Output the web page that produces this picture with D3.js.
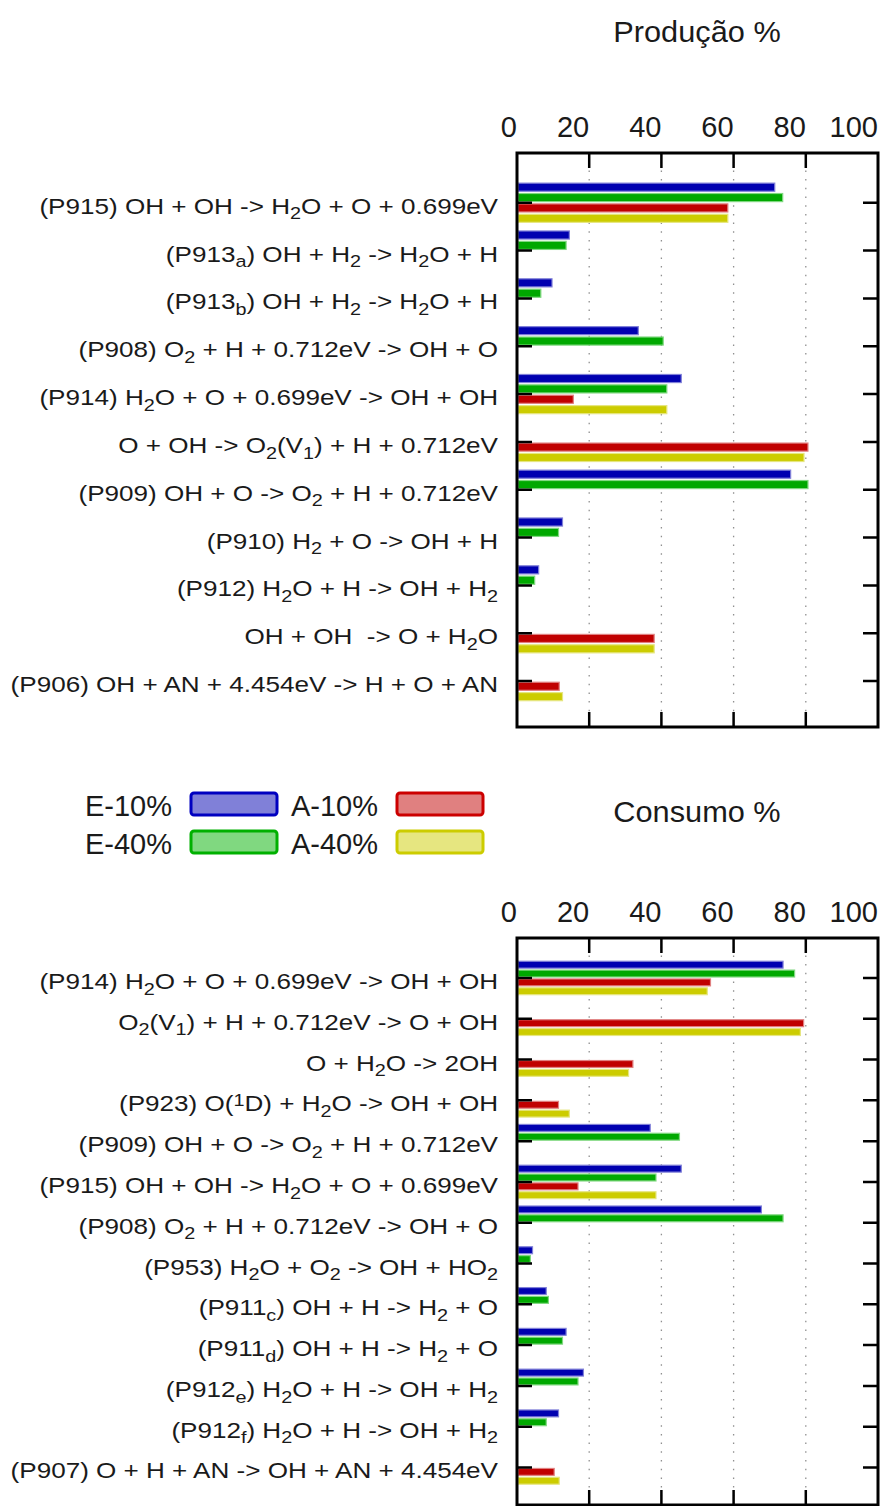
<!DOCTYPE html>
<html lang="pt">
<head>
<meta charset="UTF-8">
<title>Produção / Consumo %</title>
<script src="https://d3js.org/d3.v7.min.js"></script>
<style>
    body, html { margin: 0; padding: 0; background: #fff; }
    svg text { font-family: "Liberation Sans", Arial, sans-serif; fill: #1a1a1a; white-space: pre; }
</style>
</head>
<body>
<div id="chart"></div>
<script>
// series order: E-10%, E-40%, A-10%, A-40%
var seriesNames = ["E-10%", "E-40%", "A-10%", "A-40%"];
var barColors = ["#0000b0", "#00a800", "#c00000", "#cccc00"];
var keyFill = ["#8080d8", "#80d880", "#e08080", "#e6e680"];
var keyStroke = ["#0000c0", "#00b000", "#cc0000", "#cccc00"];
var xTicks = [0, 20, 40, 60, 80, 100];

// Produção %
var prodLabels = [
    "(P915) OH + OH -> H_2O + O + 0.699eV",
    "(P913_a) OH + H_2 -> H_2O + H",
    "(P913_b) OH + H_2 -> H_2O + H",
    "(P908) O_2 + H + 0.712eV -> OH + O",
    "(P914) H_2O + O + 0.699eV -> OH + OH",
    "O + OH -> O_2(V_1) + H + 0.712eV",
    "(P909) OH + O -> O_2 + H + 0.712eV",
    "(P910) H_2 + O -> OH + H",
    "(P912) H_2O + H -> OH + H_2",
    "OH + OH  -> O + H_2O",
    "(P906) OH + AN + 4.454eV -> H + O + AN"
];
var prodE10 = [71.4, 14.5, 9.7, 33.6, 45.5, null, 75.8, 12.6, 6.0, null, null];
var prodE40 = [73.6, 13.6, 6.6, 40.5, 41.5, null, 80.6, 11.5, 4.9, null, null];
var prodA10 = [58.4, null, null, null, 15.6, 80.6, null, null, null, 38.0, 11.7];
var prodA40 = [58.4, null, null, null, 41.5, 79.5, null, null, null, 38.0, 12.6];

// Consumo %
var consLabels = [
    "(P914) H_2O + O + 0.699eV -> OH + OH",
    "O_2(V_1) + H + 0.712eV -> O + OH",
    "O + H_2O -> 2OH",
    "(P923) O(^1D) + H_2O -> OH + OH",
    "(P909) OH + O -> O_2 + H + 0.712eV",
    "(P915) OH + OH -> H_2O + O + 0.699eV",
    "(P908) O_2 + H + 0.712eV -> OH + O",
    "(P953) H_2O + O_2 -> OH + HO_2",
    "(P911_c) OH + H -> H_2 + O",
    "(P911_d) OH + H -> H_2 + O",
    "(P912_e) H_2O + H -> OH + H_2",
    "(P912_f) H_2O + H -> OH + H_2",
    "(P907) O + H + AN -> OH + AN + 4.454eV"
];
var consE10 = [73.7, null, null, null, 36.9, 45.5, 67.7, 4.3, 8.1, 13.6, 18.4, 11.5, null];
var consE40 = [76.9, null, null, null, 45.0, 38.5, 73.7, 3.7, 8.7, 12.6, 16.9, 8.1, null];
var consA10 = [53.6, 79.4, 32.1, 11.5, null, 16.9, null, null, null, null, null, null, 10.3];
var consA40 = [52.7, 78.5, 30.9, 14.5, null, 38.5, null, null, null, null, null, null, 11.7];

var width = 881, height = 1506;
var svg = d3.select("#chart").append("svg")
    .attr("width", width)
    .attr("height", height);

// gnuplot-like enhanced text: H_2O, O(^1D), P913_a
function richText(sel, str, size) {
    var parts = [];
    var i = 0, buf = "";
    while (i < str.length) {
        var c = str[i];
        if ((c === "_" || c === "^") && i + 1 < str.length) {
            if (buf) { parts.push({ t: buf, k: 0 }); buf = ""; }
            var s;
            if (str[i + 1] === "{") {
                var j = str.indexOf("}", i);
                s = str.slice(i + 2, j);
                i = j + 1;
            } else {
                s = str[i + 1];
                i += 2;
            }
            parts.push({ t: s, k: c === "_" ? 1 : -1 });
        } else {
            buf += c;
            i++;
        }
    }
    if (buf) parts.push({ t: buf, k: 0 });

    var shift = 0;
    parts.forEach(function (p) {
        var target = p.k * size * 0.26;
        var ts = sel.append("tspan")
            .attr("dy", target - shift)
            .text(p.t);
        if (p.k !== 0) ts.attr("font-size", size * 0.76);
        shift = target;
    });
    if (shift !== 0) sel.append("tspan").attr("dy", -shift).text("");
}

function panel(opts) {
    var n = opts.labels.length;
    var x = d3.scaleLinear().domain([0, 100]).range([517, 878]);
    var y = d3.scaleLinear().domain(opts.ydom).range([opts.top, opts.bottom]);
    var step = y(1) - y(0);
    var inner = d3.scaleBand().domain(d3.range(4))
        .range([-step * 0.41, step * 0.41]).paddingInner(0.22);

    var g = svg.append("g");

    // title
    g.append("text")
        .attr("transform", "translate(697," + opts.titleY + ") scale(1.06,1)")
        .attr("text-anchor", "middle")
        .attr("font-size", 29)
        .text(opts.title);

    // grid
    g.selectAll(".grid").data([20, 40, 60, 80]).enter().append("line")
        .attr("x1", d => x(d)).attr("x2", d => x(d))
        .attr("y1", opts.top).attr("y2", opts.bottom)
        .attr("stroke", "#909090")
        .attr("stroke-width", 1.3)
        .attr("stroke-dasharray", "1.5,7.2");

    // bars
    var series = [opts.e10, opts.e40, opts.a10, opts.a40];
    series.forEach(function (vals, si) {
        var data = vals.map((v, i) => ({ v: v, i: i })).filter(d => d.v != null && d.v > 0);
        g.selectAll(".bar" + si).data(data).enter().append("rect")
            .attr("x", x(0) + 1)
            .attr("y", d => y(d.i) + inner(si))
            .attr("width", d => x(d.v) - x(0) - 1)
            .attr("height", inner.bandwidth())
            .attr("fill", barColors[si])
            .attr("stroke", keyFill[si])
            .attr("stroke-width", 1.2);
    });

    // x tick labels (right aligned to tick)
    g.selectAll(".xl").data(xTicks).enter().append("text")
        .attr("x", d => x(d))
        .attr("y", opts.top - 16)
        .attr("text-anchor", "end")
        .attr("font-size", 29)
        .text(d => d);

    // x ticks top and bottom, inward
    var tl = 15;
    g.selectAll(".xt").data([20, 40, 60, 80]).enter().append("path")
        .attr("d", d => "M" + x(d) + "," + opts.top + "v" + tl + "M" + x(d) + "," + opts.bottom + "v" + (-tl))
        .attr("stroke", "#000").attr("stroke-width", 2.5);

    // y ticks left and right, inward
    g.selectAll(".yt").data(d3.range(n)).enter().append("path")
        .attr("d", d => "M" + x(0) + "," + y(d) + "h" + tl + "M" + x(100) + "," + y(d) + "h" + (-tl))
        .attr("stroke", "#000").attr("stroke-width", 2.5);

    // category labels (glyphs in the source are wider than Liberation Sans)
    g.selectAll(".yl").data(opts.labels).enter().append("text")
        .attr("transform", (d, i) => "translate(498," + (y(i) + 11) + ") scale(1.185,1)")
        .attr("text-anchor", "end")
        .attr("font-size", 22)
        .each(function (d) { richText(d3.select(this), d, 22); });

    // frame
    g.append("rect")
        .attr("x", x(0)).attr("y", opts.top)
        .attr("width", x(100) - x(0)).attr("height", opts.bottom - opts.top)
        .attr("fill", "none")
        .attr("stroke", "#000")
        .attr("stroke-width", 3);
}

panel({
    title: "Produção %", titleY: 42,
    labels: prodLabels, e10: prodE10, e40: prodE40, a10: prodA10, a40: prodA40,
    top: 153, bottom: 727, ydom: [-1.04, 10.96]
});

panel({
    title: "Consumo %", titleY: 822,
    labels: consLabels, e10: consE10, e40: consE40, a10: consA10, a40: consA40,
    top: 938, bottom: 1505, ydom: [-0.98, 12.92]
});

// key
var keyPos = [
    { tx: 172, bx: 191, by: 793 },
    { tx: 172, bx: 191, by: 831 },
    { tx: 378, bx: 397, by: 793 },
    { tx: 378, bx: 397, by: 831 }
];
var key = svg.append("g");
seriesNames.forEach(function (name, i) {
    var p = keyPos[i];
    key.append("text")
        .attr("x", p.tx)
        .attr("y", p.by + 23)
        .attr("text-anchor", "end")
        .attr("font-size", 29)
        .text(name);
    key.append("rect")
        .attr("x", p.bx).attr("y", p.by)
        .attr("width", 86).attr("height", 22)
        .attr("rx", 3)
        .attr("fill", keyFill[i])
        .attr("stroke", keyStroke[i])
        .attr("stroke-width", 3);
});
</script>
</body>
</html>
